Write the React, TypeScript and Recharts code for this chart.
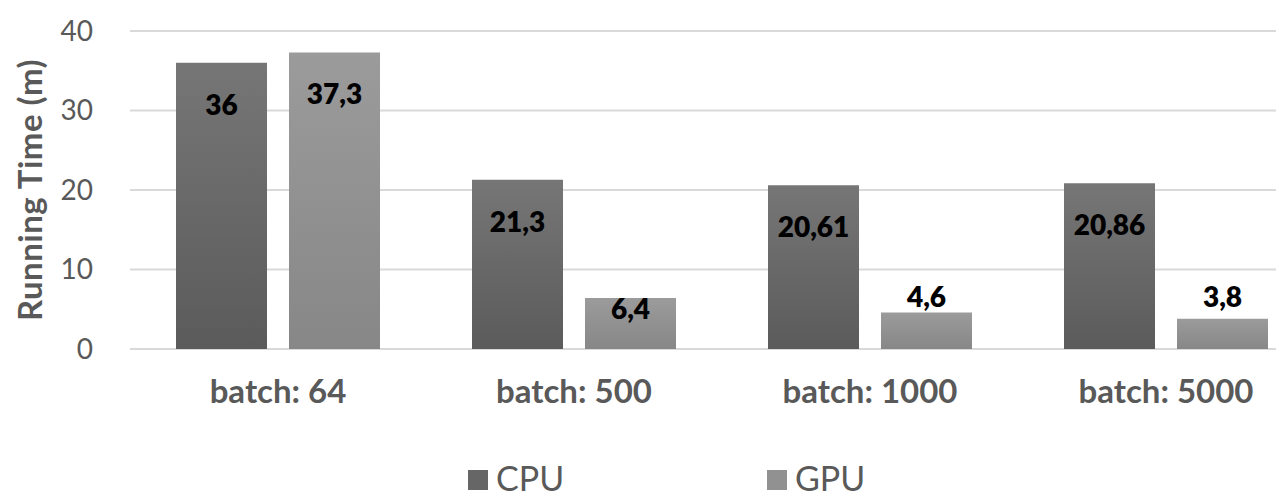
import { BarChart, Bar, XAxis, YAxis, CartesianGrid, Legend, LabelList } from 'recharts';

const categories = ['batch: 64', 'batch: 500', 'batch: 1000', 'batch: 5000'];
const cpuTimes = [36, 21.3, 20.61, 20.86];
const gpuTimes = [37.3, 6.4, 4.6, 3.8];
const yTicks = [0, 10, 20, 30, 40];

const data = categories.map((name, i) => ({ name, cpu: cpuTimes[i], gpu: gpuTimes[i] }));

const FONT = 'Lato, "Open Sans", sans-serif';

// Excel-like "inside end" labels, pushed above the bar when it is too short
const renderValueLabel = (props: any) => {
  const { x, y, width, height, value } = props;
  const base = y + height;
  let cy = y + 41;
  if (height < 82 && height >= 45) cy = base - 41;
  else if (height < 45) cy = base - 53;
  return (
    <text
      x={x + width / 2}
      y={cy}
      textAnchor='middle'
      dominantBaseline='central'
      fill='#000'
      fontFamily={FONT}
      fontWeight={800}
      fontSize={28}
    >
      {String(value).replace('.', ',')}
    </text>
  );
};

const renderLegend = () => (
  <div style={{ height: 50, position: 'relative', fontFamily: FONT, fontSize: 34, color: '#595959' }}>
    {[
      { label: 'CPU', color: '#666666', left: 468 },
      { label: 'GPU', color: '#919191', left: 767 }
    ].map(item => (
      <div key={item.label} style={{ position: 'absolute', left: item.left, top: 14, display: 'flex', alignItems: 'center', lineHeight: '30px', height: 30 }}>
        <span style={{ display: 'inline-block', width: 20, height: 20, background: item.color, marginRight: 8, marginTop: 4 }} />
        {item.label}
      </div>
    ))}
  </div>
);

export default function App() {
  return (
    <div style={{ position: 'absolute', left: 0, top: 0, width: 1276, height: 499, overflow: 'hidden', background: '#fff' }}>
      <BarChart
        width={1320}
        height={499}
        data={data}
        margin={{ top: 31, right: 6, left: 0, bottom: 0 }}
        barSize={91}
        barGap={22}
      >
        <defs>
          <linearGradient id='cpuFill' x1='0' y1='0' x2='0' y2='1'>
            <stop offset='0%' stopColor='#767676' />
            <stop offset='100%' stopColor='#5b5b5b' />
          </linearGradient>
          <linearGradient id='gpuFill' x1='0' y1='0' x2='0' y2='1'>
            <stop offset='0%' stopColor='#9b9b9b' />
            <stop offset='100%' stopColor='#878787' />
          </linearGradient>
        </defs>
        <CartesianGrid vertical={false} stroke='#d9d9d9' strokeWidth={2} />
        <XAxis
          dataKey='name'
          axisLine={false}
          tickLine={false}
          tickSize={0}
          tickMargin={31}
          height={100}
          tick={{ fill: '#595959', fontFamily: FONT, fontWeight: 700, fontSize: 33 }}
        />
        <YAxis
          domain={[0, 40]}
          ticks={yTicks}
          width={130}
          axisLine={false}
          tickLine={false}
          tickSize={0}
          tickMargin={37}
          tick={{ fill: '#595959', fontFamily: FONT, fontSize: 28 }}
          label={{
            content: (p: any) => {
              const vb = p.viewBox;
              const cx = 29;
              const cy = vb.y + vb.height / 2;
              return (
                <text
                  x={cx}
                  y={cy}
                  transform={`rotate(-90 ${cx} ${cy})`}
                  textAnchor='middle'
                  dominantBaseline='central'
                  fill='#595959'
                  fontFamily={FONT}
                  fontWeight={700}
                  fontSize={33}
                  letterSpacing={0.5}
                >
                  Running Time (m)
                </text>
              );
            }
          }}
        />
        <Legend content={renderLegend} height={50} />
        <Bar dataKey='cpu' name='CPU' fill='url(#cpuFill)' isAnimationActive={false}>
          <LabelList dataKey='cpu' content={renderValueLabel} />
        </Bar>
        <Bar dataKey='gpu' name='GPU' fill='url(#gpuFill)' isAnimationActive={false}>
          <LabelList dataKey='gpu' content={renderValueLabel} />
        </Bar>
      </BarChart>
    </div>
  );
}
